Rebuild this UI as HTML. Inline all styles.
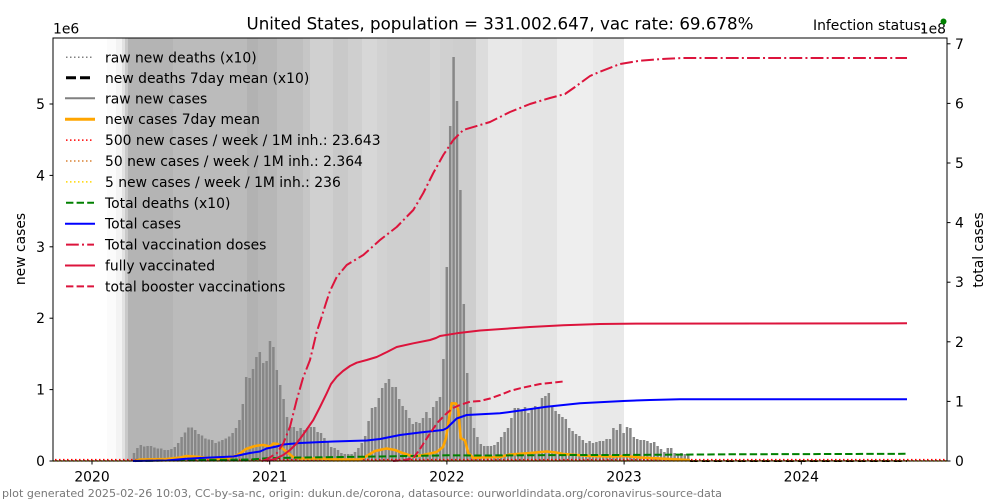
<!DOCTYPE html>
<html><head><meta charset="utf-8"><style>
html,body{margin:0;padding:0;background:#fff;}
svg{display:block;font-family:"DejaVu Sans","Liberation Sans",sans-serif;}
</style></head><body>
<svg width="1000" height="500" viewBox="0 0 1000 500" xmlns="http://www.w3.org/2000/svg">
<rect x="0" y="0" width="1000" height="500" fill="#fff"/>
<!-- background bands -->
<g shape-rendering="crispEdges">
<rect x="107" y="38" width="9" height="423" fill="#fbfbfb"/>
<rect x="116" y="38" width="6" height="423" fill="#f3f3f3"/>
<rect x="122" y="38" width="3" height="423" fill="#e2e2e2"/>
<rect x="125" y="38" width="3" height="423" fill="#c9c9c9"/>
<rect x="128" y="38" width="45" height="423" fill="#b4b4b4"/>
<rect x="173" y="38" width="74" height="423" fill="#bbbbbb"/>
<rect x="247" y="38" width="11" height="423" fill="#b2b2b2"/>
<rect x="258" y="38" width="19" height="423" fill="#b7b7b7"/>
<rect x="277" y="38" width="26" height="423" fill="#bfbfbf"/>
<rect x="303" y="38" width="7" height="423" fill="#c6c6c6"/>
<rect x="310" y="38" width="23" height="423" fill="#d0d0d0"/>
<rect x="333" y="38" width="15" height="423" fill="#c9c9c9"/>
<rect x="348" y="38" width="14" height="423" fill="#cfcfcf"/>
<rect x="362" y="38" width="15" height="423" fill="#d7d7d7"/>
<rect x="377" y="38" width="10" height="423" fill="#d2d2d2"/>
<rect x="387" y="38" width="43" height="423" fill="#cfcfcf"/>
<rect x="430" y="38" width="10" height="423" fill="#d4d4d4"/>
<rect x="440" y="38" width="13" height="423" fill="#d0d0d0"/>
<rect x="453" y="38" width="23" height="423" fill="#cecece"/>
<rect x="476" y="38" width="12" height="423" fill="#dcdcdc"/>
<rect x="488" y="38" width="34" height="423" fill="#e8e8e8"/>
<rect x="522" y="38" width="35" height="423" fill="#e4e4e4"/>
<rect x="557" y="38" width="36" height="423" fill="#eeeeee"/>
<rect x="593" y="38" width="31" height="423" fill="#e9e9e9"/>
</g>
<!-- bars -->
<path fill="none" stroke="#878787" stroke-width="2.5" d="M134 461v-8m3.4 8v-13m3.4 13v-16m3.4 16v-14.5m3.4 14.5v-15m3.4 15v-15m3.4 15v-13.5m3.4 13.5v-12.5m3.4 12.5v-12.5m3.4 12.5v-11m3.4 11v-11m3.4 11v-12m3.4 12v-14m3.4 14v-18m3.4 18v-24m3.4 24v-28.5m3.4 28.5v-33.5m3.4 33.5v-33.5m3.4 33.5v-31m3.4 31v-27m3.4 27v-25.5m3.4 25.5v-22.5m3.4 22.5v-21.5m3.4 21.5v-21m3.4 21v-18m3.4 18v-19.5m3.4 19.5v-21m3.4 21v-22.5m3.4 22.5v-24.5m3.4 24.5v-28m3.4 28v-33m3.4 33v-41m3.4 41v-57m3.4 57v-84m3.4 84v-83m3.4 83v-92m3.4 92v-104m3.4 104v-109m3.4 109v-98m3.4 98v-100m3.4 100v-120m3.4 120v-114m3.4 114v-91m3.4 91v-76m3.4 76v-62m3.4 62v-44m3.4 44v-34m3.4 34v-34m3.4 34v-30m3.4 30v-33m3.4 33v-31m3.4 31v-33m3.4 33v-34m3.4 34v-34m3.4 34v-29m3.4 29v-28m3.4 28v-23m3.4 23v-19m3.4 19v-14m3.4 14v-13m3.4 13v-11m3.4 11v-8m3.4 8v-7m3.4 7v-7m3.4 7v-7m3.4 7v-9m3.4 9v-13m3.4 13v-18m3.4 18v-25m3.4 25v-40m3.4 40v-53m3.4 53v-54m3.4 54v-63m3.4 63v-73m3.4 73v-78m3.4 78v-82m3.4 82v-74m3.4 74v-74m3.4 74v-62m3.4 62v-55m3.4 55v-51m3.4 51v-43m3.4 43v-37m3.4 37v-39m3.4 39v-38m3.4 38v-43m3.4 43v-49m3.4 49v-43m3.4 43v-54m3.4 54v-60m3.4 60v-64m3.4 64v-102m3.4 102v-194m3.4 194v-335m3.4 335v-404m3.4 404v-360m3.4 360v-271m3.4 271v-157m3.4 157v-88m3.4 88v-54m3.4 54v-33m3.4 33v-24m3.4 24v-17m3.4 17v-15m3.4 15v-15m3.4 15v-15m3.4 15v-16m3.4 16v-19m3.4 19v-24m3.4 24v-29m3.4 29v-33m3.4 33v-43m3.4 43v-53m3.4 53v-53m3.4 53v-51m3.4 51v-54m3.4 54v-48m3.4 48v-52m3.4 52v-55m3.4 55v-53m3.4 53v-63m3.4 63v-65m3.4 65v-68m3.4 68v-55m3.4 55v-50m3.4 50v-47m3.4 47v-44m3.4 44v-42m3.4 42v-33m3.4 33v-30m3.4 30v-27m3.4 27v-25m3.4 25v-21m3.4 21v-18m3.4 18v-20m3.4 20v-18m3.4 18v-19m3.4 19v-20m3.4 20v-20m3.4 20v-22m3.4 22v-22m3.4 22v-33m3.4 33v-31m3.4 31v-37m3.4 37v-28m3.4 28v-34m3.4 34v-33m3.4 33v-24m3.4 24v-22m3.4 22v-21m3.4 21v-21m3.4 21v-20m3.4 20v-18m3.4 18v-19m3.4 19v-15m3.4 15v-12m3.4 12v-9m3.4 9v-13m3.4 13v-13m3.4 13v-8m3.4 8v-7m3.4 7v-8m3.4 8v-7m3.4 7v-7"/>
<!-- deaths 7day mean x10 (only visible at tail) -->
<line x1="690" y1="461" x2="907" y2="461" stroke="#000" stroke-width="2" stroke-dasharray="8 4"/>
<!-- threshold dotted lines -->
<line x1="53" y1="461" x2="947" y2="461" stroke="#ffd700" stroke-width="1.5" stroke-dasharray="1.5 2.5"/>
<line x1="53" y1="460.8" x2="947" y2="460.8" stroke="#d98030" stroke-width="1.5" stroke-dasharray="1.5 2.5" stroke-dashoffset="1"/>
<line x1="53" y1="459.6" x2="947" y2="459.6" stroke="#ff0000" stroke-width="1.5" stroke-dasharray="1.5 2.5" stroke-dashoffset="2"/>
<!-- orange 7-day mean -->
<polyline fill="none" stroke="#ffa500" stroke-width="2.6" stroke-linejoin="round" points="135,461 140,459.5 166.7,459 180,457.5 186.7,456 200,457 210,458.5 225,459 235,456 240,453.5 246,449 253.3,446.5 258,445.5 263.3,445 268,446 270,446.7 273.3,443.5 278,444 283,449 287,452 293,457 300,458.5 320,458.5 340,459.5 360,459.5 366.7,456 375,451 386.7,448.5 395,450 403.3,453.3 413.3,456.5 423.3,455 436.7,452 443,447 446,438 448.3,423 451.7,403.3 456,403.5 458.3,410 460.7,438 465,440.5 468.3,453 473.3,458 480,457.5 500,457 510,454.5 530,453 546.7,451.5 556,452.5 563.3,454 590,456 613,456.5 625,456 640,457.5 660,458.5 680,459.5 690,460"/>
<!-- total deaths x10 green dashed -->
<polyline fill="none" stroke="#008000" stroke-width="2" stroke-dasharray="7.4 3.2" points="135,461 200,460 250,459.5 266.7,458.3 300,457.5 366.7,456.7 450,455.3 480,455.5 580,455 620,455 730,454.3 907,453.8"/>
<!-- total cases blue -->
<polyline fill="none" stroke="#0000ff" stroke-width="2" stroke-linejoin="round" points="133,461 166.7,460.5 183,459 200,458 233.3,456.5 250,453 260,451.5 266.7,448.5 276.7,446.5 283.3,444.5 300,443 333.3,441.5 366.7,440.5 380,439 400,435 420,432.5 443,430 447,428 450,425 456.7,418.5 466.7,415 500,413.3 513.3,411.5 546.7,406.7 580,403.3 623.3,401 650,400 680,399.3 907,399.3"/>
<!-- total vaccination doses dash-dot -->
<polyline fill="none" stroke="#dc143c" stroke-width="2" stroke-dasharray="12.8 3.2 2 3.2" stroke-linejoin="round" points="262,461 266.7,459.3 276.7,453.3 283.3,443.3 290,426.7 296.7,400 303,378 310,360 316.7,332 320,322 326,303 330,291 336.7,277 346.7,265 363.3,255 380,240 396.7,227 413.3,210 423.3,193 433.3,173 443.3,155 453.3,140 463.3,130 480,125 490,122 510,112 530,104 550,98 565,94 575,87 590,76 600,71.7 620,64 640,60.7 666.7,58.7 683,58 907,58"/>
<!-- fully vaccinated -->
<polyline fill="none" stroke="#dc143c" stroke-width="2" stroke-linejoin="round" points="266.7,461 275,459 283.3,455 290,450 296.7,443.3 305,432 313.3,420 320,407 326.7,393.3 331,384 336.7,376.7 343,371 350,366 356.7,362.7 366.7,360 376.7,357 387,352 396.7,347 413.3,343.3 430,340 436,338 440,336 456.7,333.3 480,330.5 530,327 563.3,325.3 600,324 623.3,323.7 907,323.3"/>
<!-- booster dashed -->
<polyline fill="none" stroke="#dc143c" stroke-width="2" stroke-dasharray="7.4 3.2" points="393,461 405,460 413.3,458 420,449 430,433.3 438,422 446.7,413.3 453,408 460,405 470,401.7 480,401 490,398.5 500,395 510,391 520,388.3 540,384 565,381.3"/>
<!-- axes frame -->
<rect x="53" y="38" width="894" height="423" fill="none" stroke="#000" stroke-width="1"/>
<!-- ticks -->
<g stroke="#000" stroke-width="1">
<line x1="49.5" y1="461" x2="53" y2="461"/><line x1="49.5" y1="389.6" x2="53" y2="389.6"/><line x1="49.5" y1="318.2" x2="53" y2="318.2"/><line x1="49.5" y1="246.8" x2="53" y2="246.8"/><line x1="49.5" y1="175.4" x2="53" y2="175.4"/><line x1="49.5" y1="104" x2="53" y2="104"/>
<line x1="947" y1="461" x2="950.5" y2="461"/><line x1="947" y1="401.4" x2="950.5" y2="401.4"/><line x1="947" y1="341.8" x2="950.5" y2="341.8"/><line x1="947" y1="282.2" x2="950.5" y2="282.2"/><line x1="947" y1="222.6" x2="950.5" y2="222.6"/><line x1="947" y1="163" x2="950.5" y2="163"/><line x1="947" y1="103.4" x2="950.5" y2="103.4"/><line x1="947" y1="43.8" x2="950.5" y2="43.8"/>
<line x1="92" y1="461" x2="92" y2="464.5"/><line x1="269.7" y1="461" x2="269.7" y2="464.5"/><line x1="446.9" y1="461" x2="446.9" y2="464.5"/><line x1="624.1" y1="461" x2="624.1" y2="464.5"/><line x1="801.3" y1="461" x2="801.3" y2="464.5"/>
</g>
<g font-size="13.9" fill="#000">
<g text-anchor="end">
<text x="45" y="466">0</text><text x="45" y="394.6">1</text><text x="45" y="323.2">2</text><text x="45" y="251.8">3</text><text x="45" y="180.4">4</text><text x="45" y="109">5</text>
</g>
<g text-anchor="start">
<text x="955" y="466">0</text><text x="955" y="406.4">1</text><text x="955" y="346.8">2</text><text x="955" y="287.2">3</text><text x="955" y="227.6">4</text><text x="955" y="168">5</text><text x="955" y="108.4">6</text><text x="955" y="48.8">7</text>
</g>
<g text-anchor="middle">
<text x="92" y="481.5">2020</text><text x="269.7" y="481.5">2021</text><text x="446.9" y="481.5">2022</text><text x="624.1" y="481.5">2023</text><text x="801.3" y="481.5">2024</text>
</g>
<text x="53" y="33.5">1e6</text>
<text x="813" y="30">Infection status:</text>
<text x="946" y="33.3" text-anchor="end">1e8</text>
<text transform="translate(25,249) rotate(-90)" text-anchor="middle">new cases</text>
<text transform="translate(983,250) rotate(-90)" text-anchor="middle">total cases</text>
</g>
<circle cx="943.5" cy="21.5" r="3" fill="#008000"/>
<text x="500" y="29.5" font-size="16.7" text-anchor="middle" textLength="507" lengthAdjust="spacingAndGlyphs">United States, population = 331.002.647, vac rate: 69.678%</text>
<text x="2" y="497" font-size="10.4" fill="#777" textLength="720" lengthAdjust="spacingAndGlyphs">plot generated 2025-02-26 10:03, CC-by-sa-nc, origin: dukun.de/corona, datasource: ourworldindata.org/coronavirus-source-data</text>
<!-- legend -->
<g>
<line x1="66" y1="57.3" x2="94" y2="57.3" stroke="#808080" stroke-width="1.5" stroke-dasharray="1.5 2.5"/>
<line x1="66" y1="77.8" x2="94" y2="77.8" stroke="#000" stroke-width="3" stroke-dasharray="10 4"/>
<line x1="65" y1="98.3" x2="95" y2="98.3" stroke="#808080" stroke-width="2"/>
<line x1="65" y1="119.2" x2="95" y2="119.2" stroke="#ffa500" stroke-width="3"/>
<line x1="66" y1="140.1" x2="94" y2="140.1" stroke="#ff0000" stroke-width="1.5" stroke-dasharray="1.5 2.5"/>
<line x1="66" y1="161" x2="94" y2="161" stroke="#d98030" stroke-width="1.5" stroke-dasharray="1.5 2.5"/>
<line x1="66" y1="181.9" x2="94" y2="181.9" stroke="#ffd700" stroke-width="1.5" stroke-dasharray="1.5 2.5"/>
<line x1="66" y1="202.8" x2="94" y2="202.8" stroke="#008000" stroke-width="2" stroke-dasharray="7.4 3.2"/>
<line x1="65" y1="223.7" x2="95" y2="223.7" stroke="#0000ff" stroke-width="2"/>
<line x1="66" y1="244.6" x2="94" y2="244.6" stroke="#dc143c" stroke-width="2" stroke-dasharray="12.8 3.2 2 3.2"/>
<line x1="65" y1="265.5" x2="95" y2="265.5" stroke="#dc143c" stroke-width="2"/>
<line x1="66" y1="286.4" x2="94" y2="286.4" stroke="#dc143c" stroke-width="2" stroke-dasharray="7.4 3.2"/>
</g>
<g font-size="13.9" fill="#000">
<text x="105" y="62.3">raw new deaths (x10)</text>
<text x="105" y="82.8">new deaths 7day mean (x10)</text>
<text x="105" y="103.3">raw new cases</text>
<text x="105" y="124.2">new cases 7day mean</text>
<text x="105" y="145.1">500 new cases / week / 1M inh.: 23.643</text>
<text x="105" y="166">50 new cases / week / 1M inh.: 2.364</text>
<text x="105" y="186.9">5 new cases / week / 1M inh.: 236</text>
<text x="105" y="207.8">Total deaths (x10)</text>
<text x="105" y="228.7">Total cases</text>
<text x="105" y="249.6">Total vaccination doses</text>
<text x="105" y="270.5">fully vaccinated</text>
<text x="105" y="291.4">total booster vaccinations</text>
</g>
</svg>
</body></html>
